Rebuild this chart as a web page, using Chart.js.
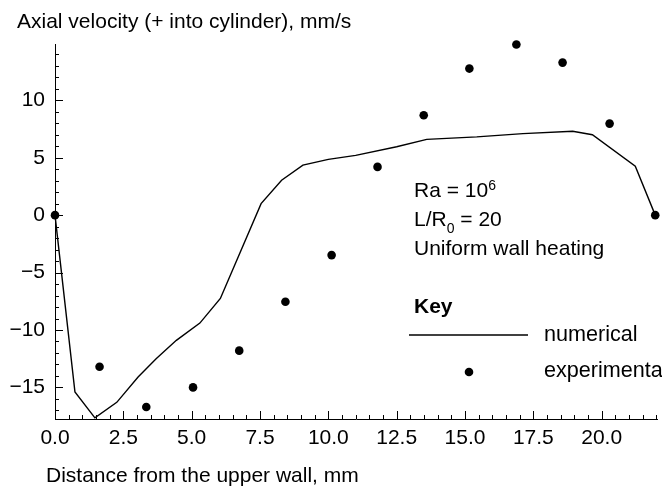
<!DOCTYPE html>
<html>
<head>
<meta charset="utf-8">
<script src="https://cdn.jsdelivr.net/npm/chart.js@4.4.1/dist/chart.umd.min.js"></script>
<style>
  html, body { margin: 0; padding: 0; background: #fff; }
</style>
</head>
<body>
<canvas id="velocity-plot" width="662" height="487"></canvas>
<script>
// numerical solution: distance from upper wall (mm) -> axial velocity (mm/s)
const numX = [0, 0.73, 1.46, 2.26, 3.04, 3.7, 4.44, 5.3, 6.05, 7.54, 8.29, 9.07, 10.0, 11.0, 12.5, 13.6, 15.43, 17.12, 18.94, 19.66, 21.23, 21.96];
const numY = [0, -15.4, -17.65, -16.3, -14.1, -12.5, -10.9, -9.4, -7.25, 1.0, 3.04, 4.35, 4.85, 5.2, 5.95, 6.6, 6.81, 7.1, 7.3, 7.0, 4.26, 0];
// experimental measurements
const expX = [0, 1.63, 3.34, 5.05, 6.74, 8.43, 10.12, 11.8, 13.49, 15.16, 16.88, 18.57, 20.29, 21.96];
const expY = [0, -13.2, -16.7, -15.0, -11.8, -7.54, -3.48, 4.2, 8.7, 12.76, 14.85, 13.28, 7.97, 0];

const xTicks = [0, 2.5, 5, 7.5, 10, 12.5, 15, 17.5, 20];
const yTicks = [-15, -10, -5, 0, 5, 10];
const seriesNames = ['numerical', 'experimental'];

const FONT = '"Liberation Sans", Arial, sans-serif';
const fmtY = v => String(v).replace('-', '\u2212');

const toPoints = (xs, ys) => xs.map((x, i) => ({ x: x, y: ys[i] }));

const decor = {
  id: 'decor',
  afterDatasetsDraw(chart) {
    const { ctx, chartArea: a, scales: { x, y } } = chart;
    ctx.save();
    ctx.strokeStyle = '#000';
    ctx.lineWidth = 1;
    ctx.beginPath();
    // inward tick marks, major + minor
    for (let v = Math.ceil(y.min); v <= y.max; v++) {
      const py = Math.round(y.getPixelForValue(v)) + 0.5;
      const len = v % 5 === 0 ? 8 : 4;
      ctx.moveTo(a.left, py);
      ctx.lineTo(a.left + len, py);
    }
    for (let v = 0; v <= x.max; v += 0.5) {
      const px = Math.round(x.getPixelForValue(v)) + 0.5;
      const len = v % 2.5 === 0 ? 8 : 4;
      ctx.moveTo(px, a.bottom);
      ctx.lineTo(px, a.bottom - len);
    }
    ctx.stroke();

    ctx.fillStyle = '#000';
    ctx.textBaseline = 'alphabetic';
    ctx.textAlign = 'left';
    ctx.font = '21px ' + FONT;
    ctx.fillText('Axial velocity (+ into cylinder), mm/s', 17, 28);
    ctx.fillText('Distance from the upper wall, mm', 46, 482);

    // parameters
    let w = ctx.measureText('Ra = 10').width;
    ctx.fillText('Ra = 10', 414, 197);
    ctx.font = '14px ' + FONT;
    ctx.fillText('6', 414 + w, 190);
    ctx.font = '21px ' + FONT;
    w = ctx.measureText('L/R').width;
    ctx.fillText('L/R', 414, 226);
    ctx.font = '14px ' + FONT;
    ctx.fillText('0', 414 + w, 233);
    const w0 = ctx.measureText('0').width;
    ctx.font = '21px ' + FONT;
    ctx.fillText(' = 20', 414 + w + w0, 226);
    ctx.fillText('Uniform wall heating', 414, 255);

    // key
    ctx.font = 'bold 21px ' + FONT;
    ctx.fillText('Key', 414, 313);
    ctx.font = '21.6px ' + FONT;
    const lineSet = chart.data.datasets[0];
    const dotSet = chart.data.datasets[1];
    ctx.lineWidth = lineSet.borderWidth;
    ctx.beginPath();
    ctx.moveTo(409, 335);
    ctx.lineTo(528, 335);
    ctx.stroke();
    ctx.fillText(lineSet.label, 544, 341);
    ctx.beginPath();
    ctx.arc(469, 372, dotSet.pointRadius, 0, Math.PI * 2);
    ctx.fill();
    ctx.fillText(dotSet.label, 544, 377);
    ctx.restore();
  }
};

const ctx = document.getElementById('velocity-plot').getContext('2d');
new Chart(ctx, {
  type: 'scatter',
  data: {
    datasets: [{
      label: seriesNames[0],
      data: toPoints(numX, numY),
      showLine: true,
      borderColor: '#000',
      borderWidth: 1.4,
      pointRadius: 0,
      pointHoverRadius: 0,
      clip: false
    }, {
      label: seriesNames[1],
      data: toPoints(expX, expY),
      showLine: false,
      backgroundColor: '#000',
      borderColor: '#000',
      borderWidth: 0,
      pointRadius: 4.3,
      clip: false
    }]
  },
  options: {
    responsive: false,
    animation: false,
    devicePixelRatio: 1,
    layout: { padding: { top: 44, left: 0, right: 0, bottom: 0 } },
    plugins: {
      legend: { display: false },
      tooltip: { enabled: false },
      title: { display: false }
    },
    scales: {
      x: {
        type: 'linear',
        min: 0,
        max: 22.05,
        afterFit: s => { s.height = 68; },
        afterBuildTicks: s => { s.ticks = xTicks.map(v => ({ value: v })); },
        grid: { display: false, drawTicks: false },
        border: { display: true, color: '#000', width: 1 },
        ticks: {
          color: '#000',
          padding: 7,
          maxRotation: 0,
          autoSkip: false,
          font: { family: FONT, size: 21 },
          callback: v => Number(v).toFixed(1)
        }
      },
      y: {
        type: 'linear',
        min: -17.75,
        max: 14.9,
        afterFit: s => { s.width = 55; },
        afterBuildTicks: s => { s.ticks = yTicks.map(v => ({ value: v })); },
        grid: { display: false, drawTicks: false },
        border: { display: true, color: '#000', width: 1 },
        ticks: {
          color: '#000',
          padding: 10,
          autoSkip: false,
          font: { family: FONT, size: 21 },
          callback: v => fmtY(v)
        }
      }
    }
  },
  plugins: [decor]
});
</script>
</body>
</html>
